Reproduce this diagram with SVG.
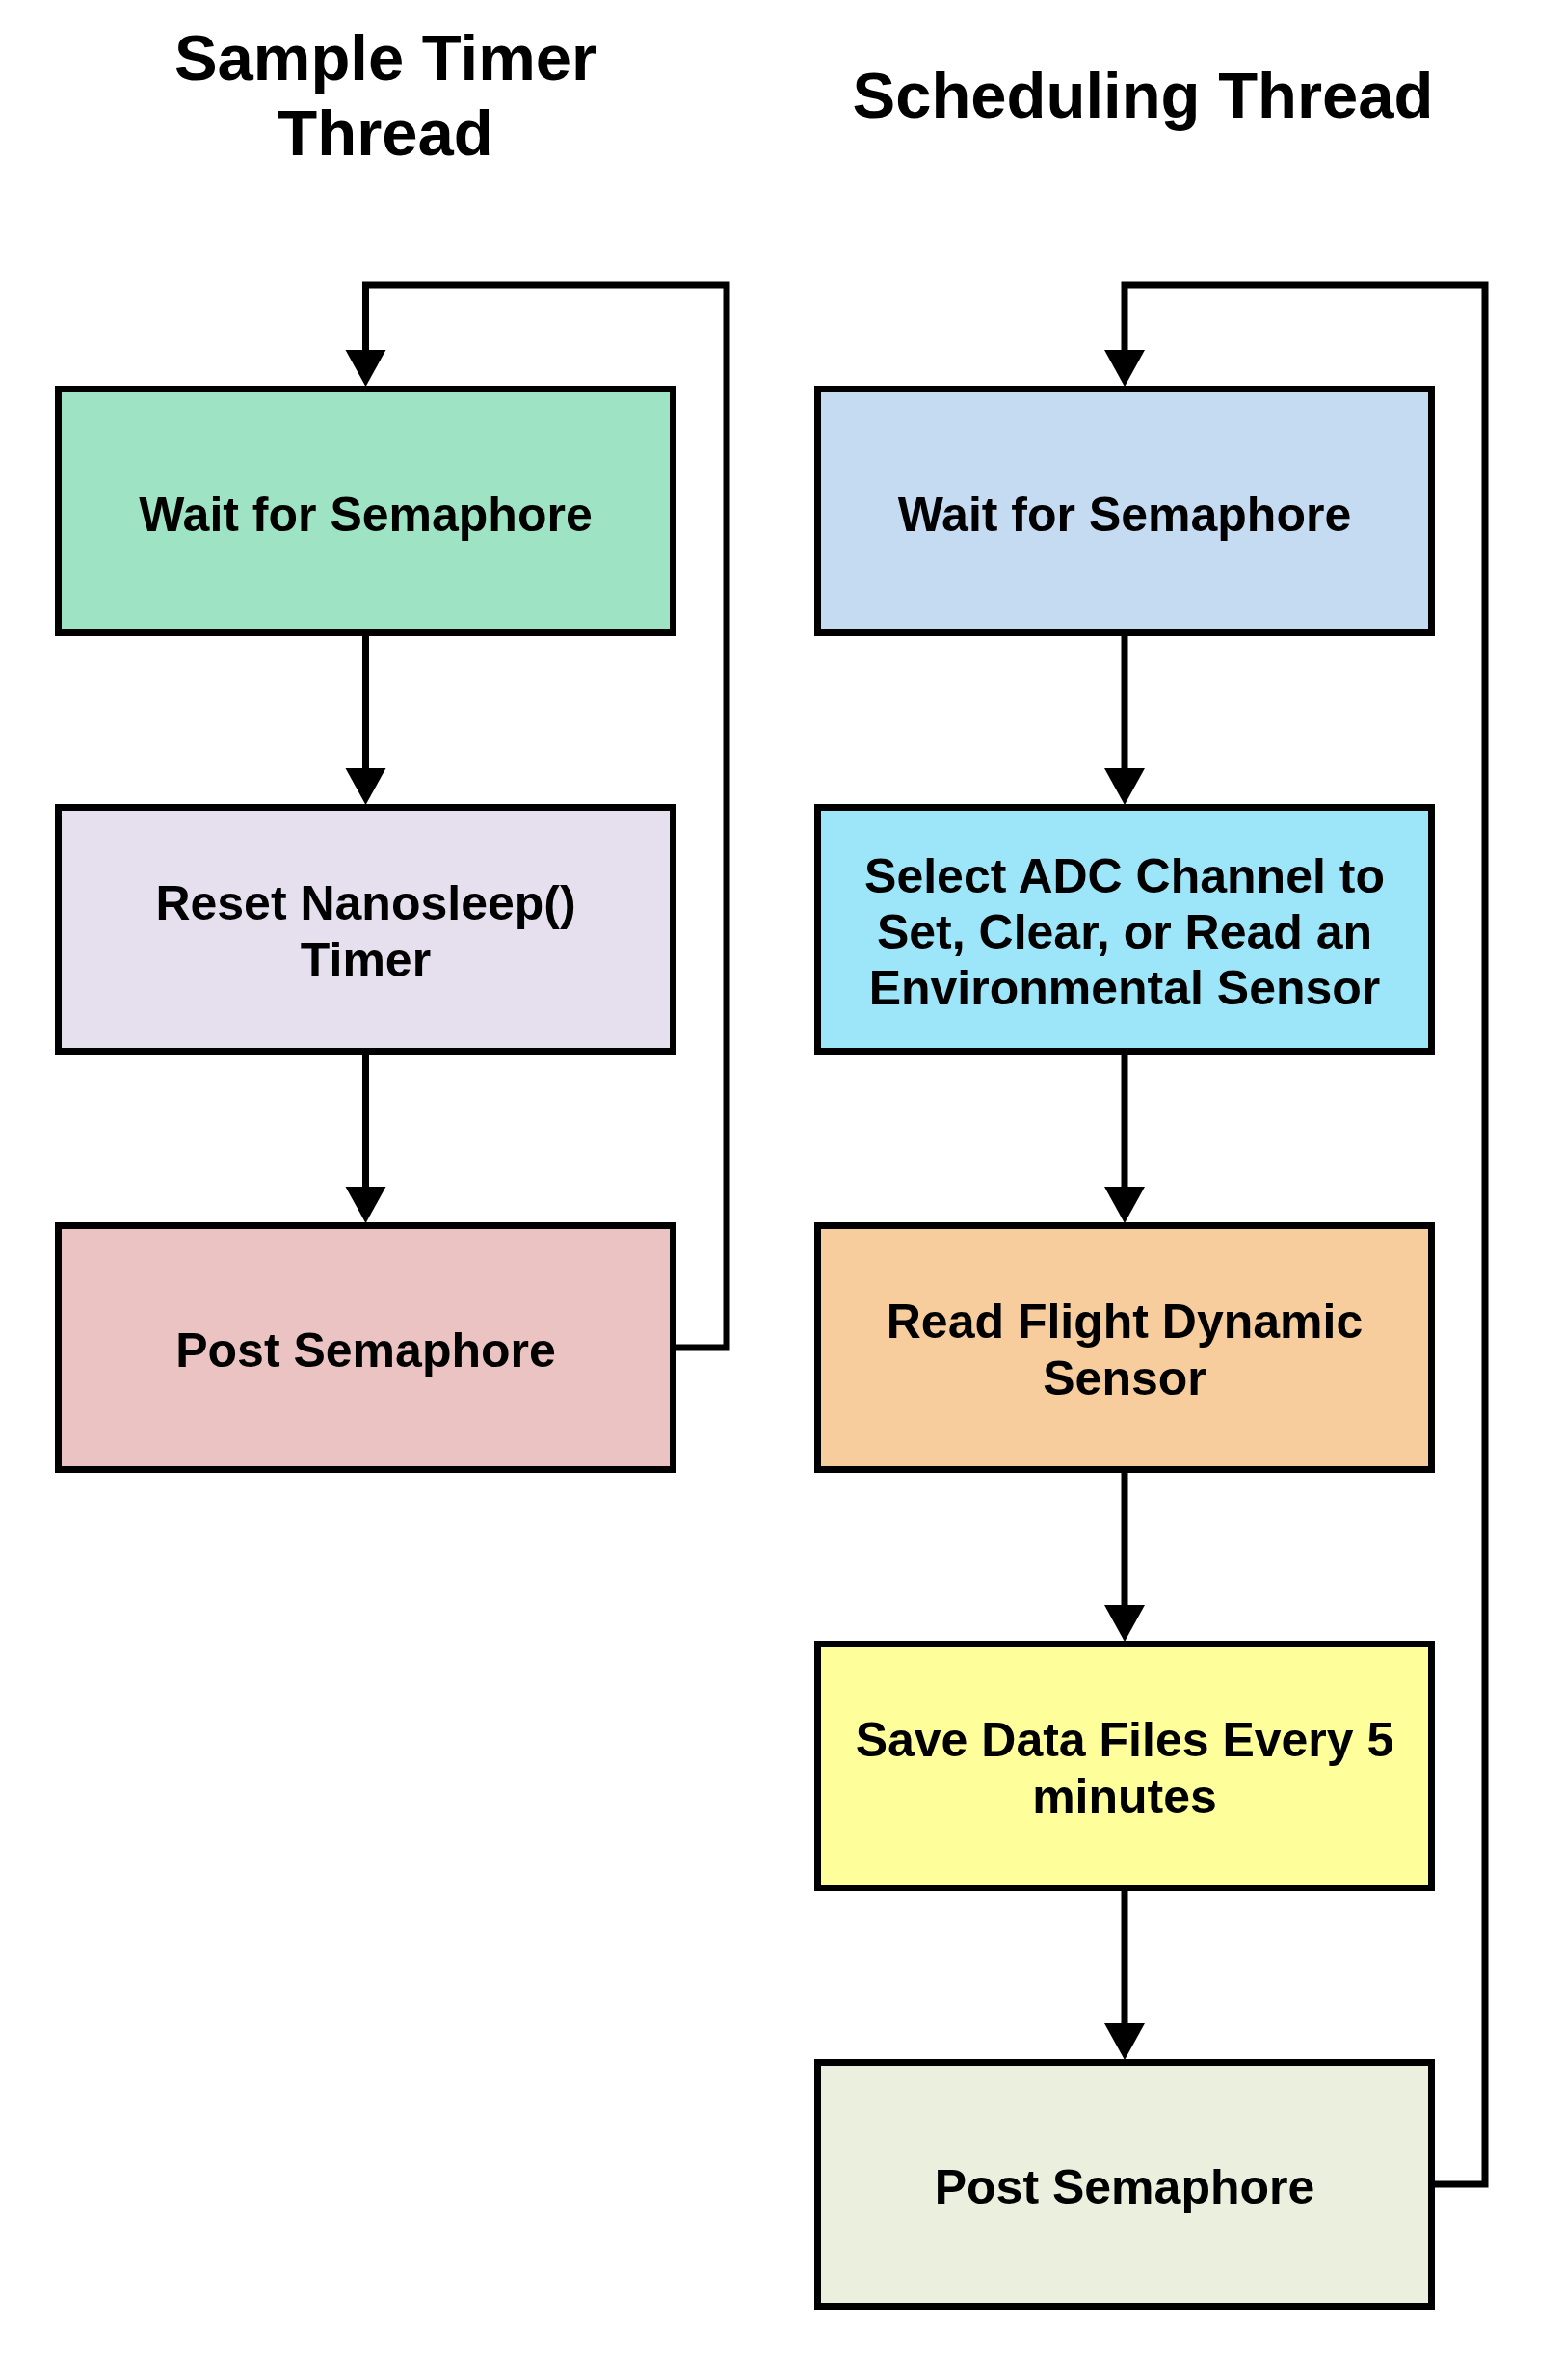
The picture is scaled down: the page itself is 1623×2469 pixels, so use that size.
<svg xmlns="http://www.w3.org/2000/svg" width="1623" height="2469" viewBox="0 0 1623 2469">
<style>
.box{stroke:#000;stroke-width:7;stroke-linejoin:miter}
.lbl{font-family:"Liberation Sans",Arial,Helvetica,sans-serif;font-weight:bold;font-size:50px;fill:#000;text-anchor:middle}
.ttl{font-family:"Liberation Sans",Arial,Helvetica,sans-serif;font-weight:bold;font-size:67px;fill:#000;text-anchor:middle}
.con{fill:none;stroke:#000;stroke-width:7;stroke-linejoin:miter;stroke-linecap:butt}
</style>
<defs>
<marker id="ah" markerUnits="userSpaceOnUse" markerWidth="40" markerHeight="44" refX="0" refY="21" orient="auto" viewBox="0 0 40 44">
<path d="M0,0 L38,21 L0,42 Z" fill="#000"/>
</marker>
</defs>
<rect width="1623" height="2469" fill="#fff"/>
<g id="titles">
<text class="ttl" x="400" y="83">Sample Timer</text>
<text class="ttl" x="400" y="161">Thread</text>
<text class="ttl" x="1186" y="122">Scheduling Thread</text>
</g>
<g id="connectors">
<path class="con" d="M702,1398 H754 V296 H379.5 V363" marker-end="url(#ah)"/>
<path class="con" d="M379.5,660 V797" marker-end="url(#ah)"/>
<path class="con" d="M379.5,1094 V1231" marker-end="url(#ah)"/>
<path class="con" d="M1489,2266 H1541 V296 H1167 V363" marker-end="url(#ah)"/>
<path class="con" d="M1167,660 V797" marker-end="url(#ah)"/>
<path class="con" d="M1167,1094 V1231" marker-end="url(#ah)"/>
<path class="con" d="M1167,1528 V1665" marker-end="url(#ah)"/>
<path class="con" d="M1167,1962 V2099" marker-end="url(#ah)"/>
</g>
<g id="t_wait">
<rect class="box" x="60.5" y="403.5" width="638" height="253" fill="#9ee4c4"/>
<text class="lbl" x="379.5" y="551">Wait for Semaphore</text>
</g>
<g id="t_reset">
<rect class="box" x="60.5" y="837.5" width="638" height="253" fill="#e6e0ee"/>
<text class="lbl" x="379.5" y="954">Reset Nanosleep()</text>
<text class="lbl" x="379.5" y="1013">Timer</text>
</g>
<g id="t_post">
<rect class="box" x="60.5" y="1271.5" width="638" height="253" fill="#ebc3c2"/>
<text class="lbl" x="379.5" y="1418">Post Semaphore</text>
</g>
<g id="s_wait">
<rect class="box" x="848.5" y="403.5" width="637" height="253" fill="#c5dbf2"/>
<text class="lbl" x="1167" y="551">Wait for Semaphore</text>
</g>
<g id="s_select">
<rect class="box" x="848.5" y="837.5" width="637" height="253" fill="#9de6f9"/>
<text class="lbl" x="1167" y="926">Select ADC Channel to</text>
<text class="lbl" x="1167" y="984">Set, Clear, or Read an</text>
<text class="lbl" x="1167" y="1042">Environmental Sensor</text>
</g>
<g id="s_read">
<rect class="box" x="848.5" y="1271.5" width="637" height="253" fill="#f7cd9e"/>
<text class="lbl" x="1167" y="1388">Read Flight Dynamic</text>
<text class="lbl" x="1167" y="1447">Sensor</text>
</g>
<g id="s_save">
<rect class="box" x="848.5" y="1705.5" width="637" height="253" fill="#feff9b"/>
<text class="lbl" x="1167" y="1822">Save Data Files Every 5</text>
<text class="lbl" x="1167" y="1881">minutes</text>
</g>
<g id="s_post">
<rect class="box" x="848.5" y="2139.5" width="637" height="253" fill="#ebf0de"/>
<text class="lbl" x="1167" y="2286">Post Semaphore</text>
</g>
</svg>
